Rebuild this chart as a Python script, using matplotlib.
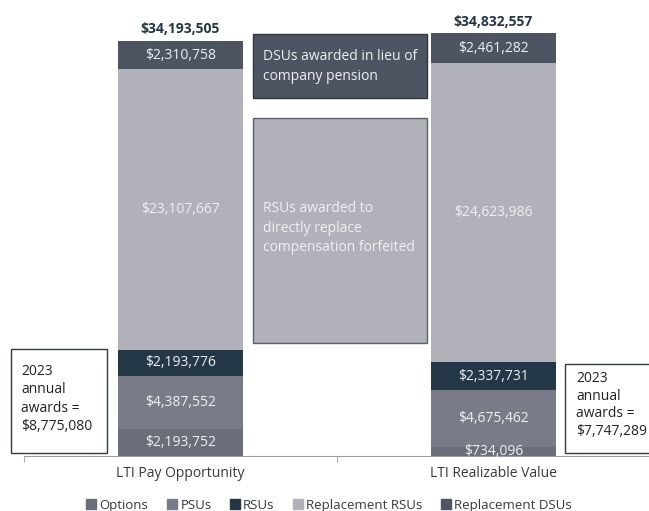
import matplotlib
matplotlib.use("Agg")
import matplotlib.pyplot as plt
from matplotlib.patches import Rectangle
from matplotlib.lines import Line2D
import numpy as np

plt.rcParams['font.family'] = ['Open Sans', 'DejaVu Sans']

# ====== data ======
categories = ["LTI Pay Opportunity", "LTI Realizable Value"]
series = ["Options", "PSUs", "RSUs", "Replacement RSUs", "Replacement DSUs"]
options = [2193752, 734096]
psus = [4387552, 4675462]
rsus = [2193776, 2337731]
repl_rsus = [23107667, 24623986]
repl_dsus = [2310758, 2461282]
annual_awards = [8775080, 7747289]

colors = ["#6b6e79", "#797c88", "#243746", "#b1b2b9", "#4d5562"]
label_color = "#eef0f3"
dark = "#243746"

fig = plt.figure(figsize=(6.49, 5.11), dpi=100)
ax = fig.add_axes([24 / 649, 55 / 511, 626 / 649, 456 / 511])

x = np.arange(len(categories))
width = 0.4
values = [options, psus, rsus, repl_rsus, repl_dsus]
bottom = np.zeros(len(categories))
for name, vals, c in zip(series, values, colors):
    vals = np.array(vals, dtype=float)
    ax.bar(x, vals, width, bottom=bottom, color=c, label=name)
    for xi, v, b in zip(x, vals, bottom):
        ax.text(xi, b + v / 2, f"${v:,.0f}", ha="center", va="center",
                fontsize=10, color=label_color)
    bottom += vals

# totals
for xi, t in zip(x, bottom):
    ax.text(xi, t + 0.4e6, f"${t:,.0f}", ha="center", va="bottom",
            fontsize=10, fontweight="bold", color=dark)

ax.set_xlim(-0.5, 1.5)
ax.set_ylim(0, 456 / 12.13e-6)
for s in ["top", "right", "left"]:
    ax.spines[s].set_visible(False)
ax.spines["bottom"].set_color("#9a9ca3")
ax.set_yticks([])
ax.set_xticks(x)
ax.set_xticklabels(categories, fontsize=10, color="#333a44")
ax.tick_params(axis="x", length=0, pad=7)
ax.set_xticks([-0.5, 0.5, 1.5], minor=True)
ax.tick_params(axis="x", which="minor", length=4, color="#9a9ca3")

# ====== callout boxes (figure pixel coords) ======
def px_box(x0, y0, x1, y1, fc, ec):
    fig.patches.append(Rectangle((x0 / 649, 1 - y1 / 511), (x1 - x0) / 649, (y1 - y0) / 511,
                                 transform=fig.transFigure, facecolor=fc, edgecolor=ec,
                                 linewidth=1.0))

px_box(253, 34, 427, 98, colors[4], "#2f3540")
fig.text(263 / 649, 1 - 66.5 / 511, "DSUs awarded in lieu of\ncompany pension",
         ha="left", va="center", fontsize=10, color=label_color, linespacing=1.45)

px_box(253, 118, 427, 343, colors[3], "#5a606b")
fig.text(263 / 649, 1 - 228 / 511, "RSUs awarded to\ndirectly replace\ncompensation forfeited",
         ha="left", va="center", fontsize=10, color=label_color, linespacing=1.42)

px_box(11, 349, 107, 453, "white", "#333a44")
fig.text(21 / 649, 1 - 399 / 511, f"2023\nannual\nawards =\n${annual_awards[0]:,.0f}",
         ha="left", va="center", fontsize=10, color="#222", linespacing=1.32)

px_box(565, 364, 655, 453, "white", "#333a44")
fig.text(576 / 649, 1 - 405 / 511, f"2023\nannual\nawards =\n${annual_awards[1]:,.0f}",
         ha="left", va="center", fontsize=10, color="#222", linespacing=1.25)

# legend
handles = [Line2D([], [], marker="s", linestyle="none", markersize=7, color=c) for c in colors]
fig.legend(handles, series, loc="center", bbox_to_anchor=(329 / 649, 1 - 505 / 511), ncol=5,
           frameon=False, fontsize=9.5, handlelength=0.8, handletextpad=0.25,
           columnspacing=1.35, labelcolor="#333a44", borderaxespad=0)

fig.savefig("out.png", dpi=100)
